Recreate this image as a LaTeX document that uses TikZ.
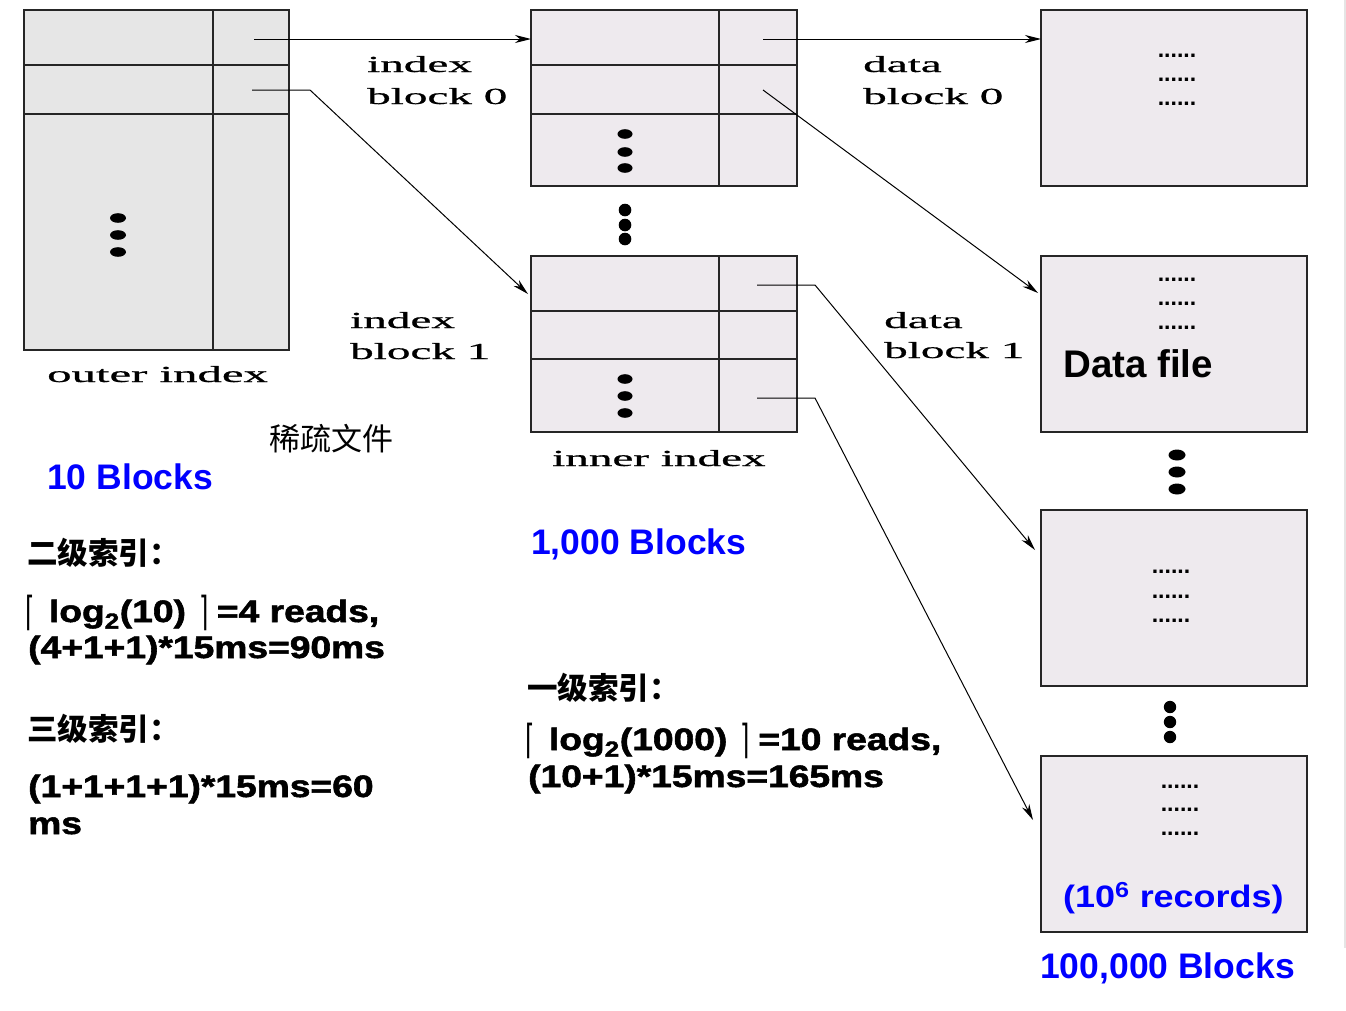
\documentclass[tikz,border=0pt]{standalone}
\usepackage{fontspec}
\usepackage{graphicx}
\setmainfont{Liberation Serif}
\newfontfamily\serk[FakeBold=0.6]{Liberation Serif}
\newfontfamily\hv{Liberation Sans}
\newfontfamily\hvk[FakeBold=1.6]{Liberation Sans Bold}
\newfontfamily\cjk{Noto Sans CJK SC}
\newfontfamily\dv{DejaVu Sans}
\usetikzlibrary{arrows.meta}
\definecolor{ogray}{HTML}{E6E6E6}
\definecolor{pgray}{HTML}{EEEAEE}
\definecolor{myblue}{HTML}{0000FF}
\newcommand{\sx}[1]{\scalebox{2.05}[1]{#1}}
\newcommand{\fx}[1]{\scalebox{1.2}[1]{#1}}
\newcommand{\lc}{{\dv\mdseries\fontsize{40}{40}\selectfont\raisebox{-3pt}{\scalebox{0.5}[1]{⌈}}}\hspace{12pt}}
\newcommand{\rc}{\hspace{11pt}{\dv\mdseries\fontsize{40}{40}\selectfont\raisebox{-3pt}{\scalebox{0.5}[1]{⌉}}}\hspace{7pt}}
\begin{document}
\begin{tikzpicture}[x=1pt,y=-1pt,
  blk/.style={draw=black!85, line width=1.5pt, inner sep=0pt, outer sep=0pt, anchor=north west},
  divl/.style={draw=black!85, line width=1.5pt},
  conn/.style={line width=1pt, -{Stealth[length=16pt,width=8pt,inset=5pt]}},
  ser/.style={font=\serk\fontsize{23}{27}\selectfont, inner sep=0pt, anchor=base west},
  bluet/.style={font=\hv\bfseries\fontsize{35.5}{40}\selectfont, text=myblue, inner sep=0pt, anchor=base west},
  frm/.style={font=\hvk\fontsize{31}{36}\selectfont, inner sep=0pt, anchor=base west},
  cjkh/.style={font=\cjk\bfseries\fontsize{30.5}{34}\selectfont, inner sep=0pt, anchor=base west},
  rec/.style={font=\hv\bfseries\fontsize{23}{26}\selectfont, inner sep=0pt, anchor=base}
]
\useasboundingbox (0,0) rectangle (1346,1010);
\fill[white] (0,0) rectangle (1346,1010);
\draw[black!10, line width=1.5pt] (1345,0) -- (1345,948);

% outer index
\node[blk, fill=ogray, minimum width=265pt, minimum height=340pt] (outer) at (24,10) {};
\draw[divl] (213,10) -- (213,350);
\draw[divl] (24,65) -- (289,65);
\draw[divl] (24,114) -- (289,114);
\foreach \y in {218,235,252} \fill (118,\y) ellipse [x radius=8pt, y radius=4.8pt];

% index block 0
\node[blk, fill=pgray, minimum width=266pt, minimum height=176pt] (ib0) at (531,10) {};
\draw[divl] (719,10) -- (719,186);
\draw[divl] (531,65) -- (797,65);
\draw[divl] (531,114) -- (797,114);
\foreach \y in {134,152,168} \fill (625,\y) ellipse [x radius=7.5pt, y radius=4.8pt];
\foreach \y in {210,225,239} \fill (625,\y) circle [radius=6.3pt];

% inner index (index block 1)
\node[blk, fill=pgray, minimum width=266pt, minimum height=176pt] (ib1) at (531,256) {};
\draw[divl] (719,256) -- (719,432);
\draw[divl] (531,311) -- (797,311);
\draw[divl] (531,359) -- (797,359);
\foreach \y in {379,396,413} \fill (625,\y) ellipse [x radius=7.5pt, y radius=4.8pt];

% data blocks
\node[blk, fill=pgray, minimum width=266pt, minimum height=176pt] (db0) at (1041,10) {};
\node[blk, fill=pgray, minimum width=266pt, minimum height=176pt] (db1) at (1041,256) {};
\node[blk, fill=pgray, minimum width=266pt, minimum height=176pt] (db2) at (1041,510) {};
\node[blk, fill=pgray, minimum width=266pt, minimum height=176pt] (db3) at (1041,756) {};
\foreach \y in {455,472,489} \fill (1177,\y) ellipse [x radius=8.5pt, y radius=5.5pt];
\foreach \y in {707,722,737} \fill (1170,\y) circle [radius=6.2pt];

\foreach \y/\n in {57/a,81/b,105/c} \node[rec] (r0\n) at (1177,\y) {......};
\foreach \y/\n in {281/a,305/b,329/c} \node[rec] (r1\n) at (1177,\y) {......};
\foreach \y/\n in {573/a,598/b,622/c} \node[rec] (r2\n) at (1171,\y) {......};
\foreach \y/\n in {788/a,811/b,835/c} \node[rec] (r3\n) at (1180,\y) {......};

\node[font=\hv\bfseries\fontsize{38.5}{42}\selectfont, inner sep=0pt, anchor=base west] (df) at (1063,377) {Data file};
\node[font=\hv\bfseries\fontsize{31}{36}\selectfont, text=myblue, inner sep=0pt, anchor=base west] (recs) at (1063,907) {\scalebox{1.16}[1]{(10\textsuperscript{6} records)}};

% connectors
\coordinate (s1) at (254,39);
\coordinate (s2) at (252,90);
\coordinate (b2) at (310,90);
\coordinate (t2) at (528,294);
\coordinate (s3) at (763,39);
\coordinate (s4) at (763,90);
\coordinate (t4) at (1038,293);
\coordinate (s5) at (757,285);
\coordinate (b5) at (815,285);
\coordinate (t5) at (1035,550);
\coordinate (s6) at (757,398);
\coordinate (b6) at (815,398);
\coordinate (t6) at (1033,820);
\draw[conn] (s1) -- (s1 -| ib0.west);
\draw[conn] (s2) -- (b2) -- (t2);
\draw[conn] (s3) -- (s3 -| db0.west);
\draw[conn] (s4) -- (t4);
\draw[conn] (s5) -- (b5) -- (t5);
\draw[conn] (s6) -- (b6) -- (t6);

% serif labels
\node[ser] (l1a) at (367,72) {\sx{index}};
\node[ser] (l1b) at (367,104) {\sx{block 0}};
\node[ser] (l2a) at (350,328) {\sx{index}};
\node[ser] (l2b) at (350,359) {\sx{block 1}};
\node[ser] (l3a) at (863,72) {\sx{data}};
\node[ser] (l3b) at (863,104) {\sx{block 0}};
\node[ser] (l4a) at (884,328) {\sx{data}};
\node[ser] (l4b) at (884,358) {\sx{block 1}};
\node[ser] (l5) at (47,382) {\scalebox{2.12}[1]{outer index}};
\node[ser] (l6) at (552,466) {\sx{inner index}};

% blue counts
\node[bluet] (c1) at (47,489) {10 Blocks};
\node[bluet] (c2) at (531,554) {1,000 Blocks};
\node[bluet] (c3) at (1040,978) {100,000 Blocks};

% chinese
\node[font=\cjk\fontsize{31}{34}\selectfont, inner sep=0pt, anchor=base west] (sp) at (269,450) {稀疏文件};
\node[cjkh] (h2) at (27,564) {二级索引：};
\node[cjkh] (h3) at (27,740) {三级索引：};
\node[cjkh] (h1) at (527,699) {一级索引：};

% formulas
\node[frm] (f1) at (25,622) {\fx{\lc log\textsubscript{2}(10)\rc=4 reads,}};
\node[frm] (f2) at (28,658) {\fx{(4+1+1)*15ms=90ms}};
\node[frm] (f3) at (28,797) {\fx{(1+1+1+1)*15ms=60}};
\node[frm] (f4) at (28,834) {\fx{ms}};
\node[frm] (f5) at (525,750) {\fx{\lc log\textsubscript{2}(1000)\rc=10 reads,}};
\node[frm] (f6) at (528,787) {\fx{(10+1)*15ms=165ms}};
\end{tikzpicture}
\end{document}
